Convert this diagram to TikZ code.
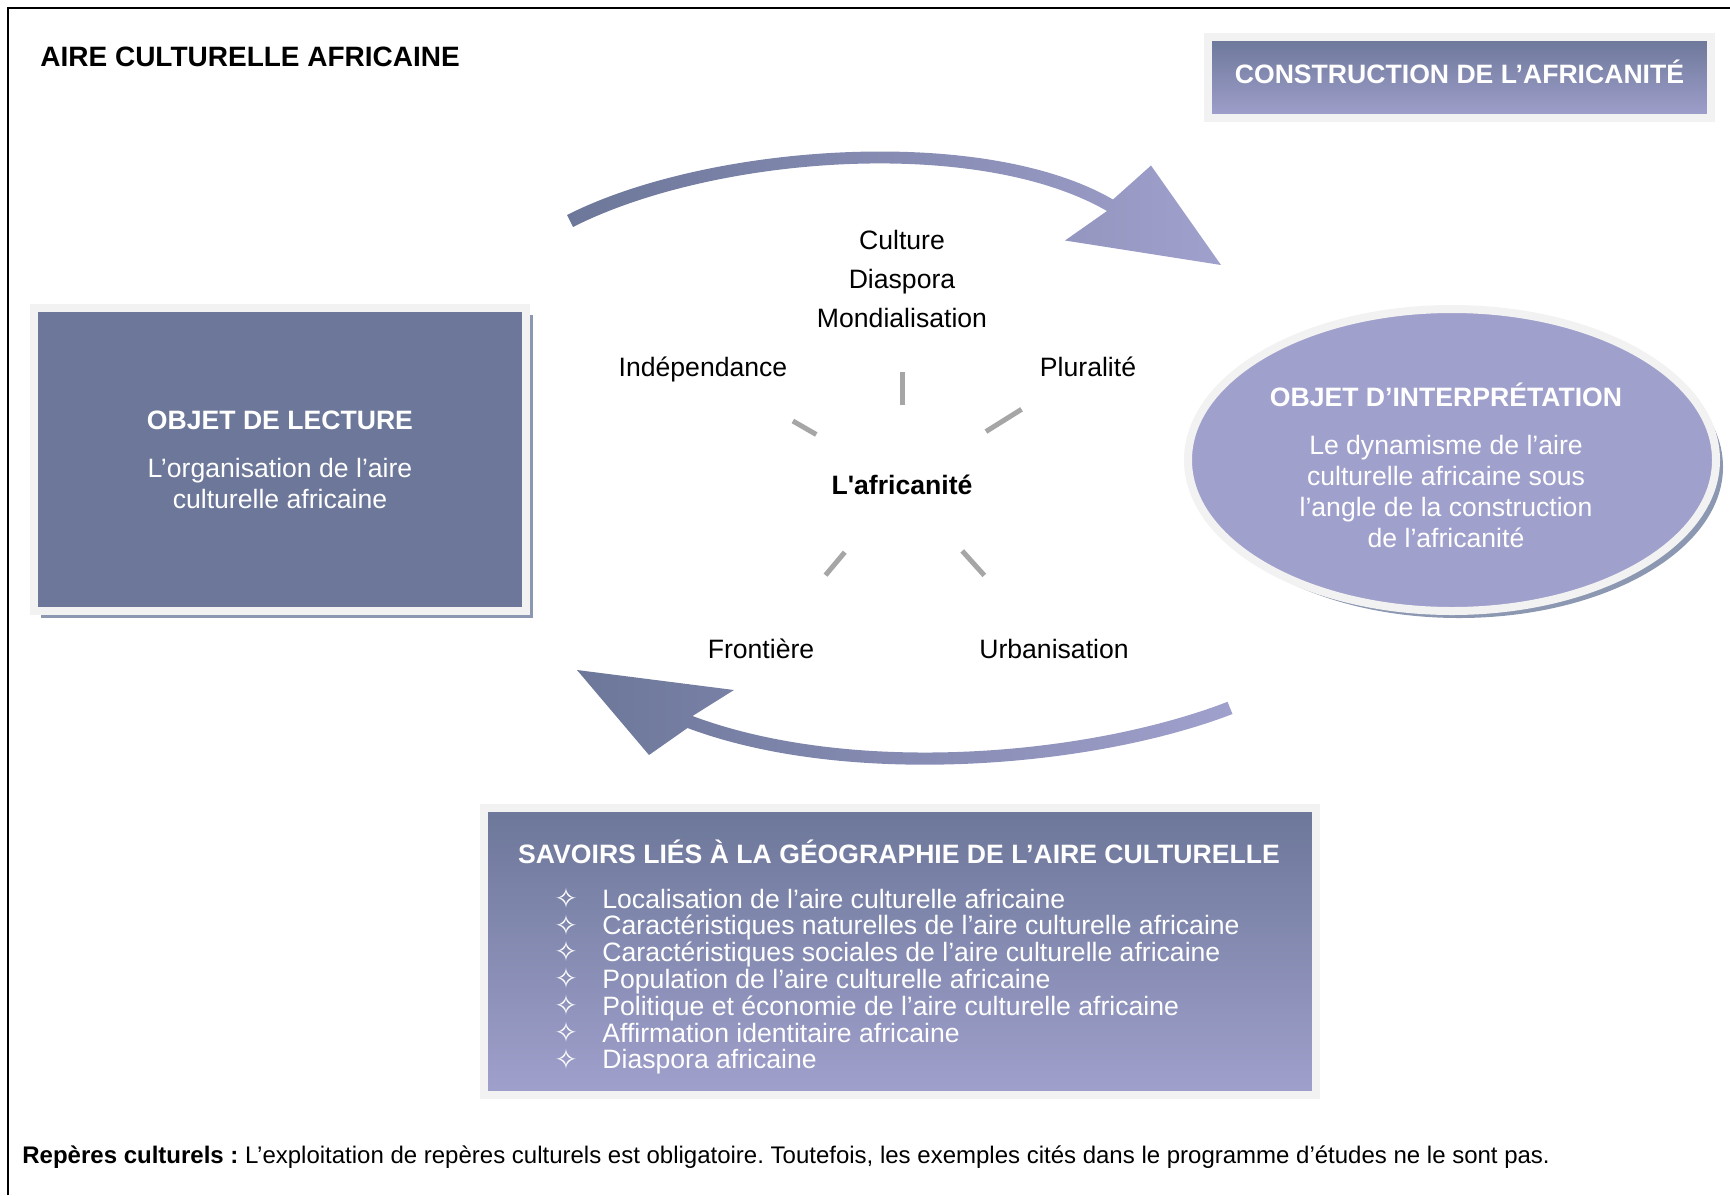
\documentclass[tikz,border=0pt]{standalone}
\usepackage{fontspec}
\setmainfont{Liberation Sans}
\newfontfamily\symfont{DejaVu Sans}
\usetikzlibrary{positioning, calc, shapes.geometric, shadows}
\definecolor{slate}{RGB}{108,119,153}
\definecolor{lavender}{RGB}{160,160,204}
\definecolor{rim}{RGB}{242,242,242}
\definecolor{shadowblue}{RGB}{140,152,178}
\definecolor{raygrey}{RGB}{166,166,166}
\newcommand\mainsize{\fontsize{13.3pt}{15.5pt}\selectfont}
\frenchspacing

\begin{document}
\begin{tikzpicture}[x=0.5pt, y=-0.5pt, node distance=19.5pt, on grid,
    word/.style={font=\mainsize, text height=11pt, text depth=1pt, inner sep=0pt},
    panel/.style={draw=rim, line width=4pt, inner sep=0pt, text=white, align=center, font=\mainsize},
    shadowed/.style={drop shadow={shadow xshift=3.5pt, shadow yshift=-3.5pt, fill=shadowblue, opacity=1}},
    ray/.style={raygrey, line width=2.5pt},
    swoosh/.style={left color=slate, right color=lavender}]
   \useasboundingbox (0,0) rectangle (1730,1195);
   \draw[line width=1pt] (7.7,1195) |- (1730,7.7);

   \node[word, font=\fontsize{14pt}{16pt}\selectfont\bfseries, anchor=west] (title) at (40,56) {AIRE CULTURELLE AFRICAINE};
   \node[panel, top color=slate, bottom color=lavender, minimum width=251.5pt, minimum height=40.5pt,
         text height=9pt, text depth=3pt, font=\mainsize\bfseries] (construct) at (1459.5,77.5) {CONSTRUCTION DE L'AFRICANITÉ};

   % the three panels
   \node[panel, fill=slate, shadowed, minimum width=246.25pt, minimum height=151.5pt] (lecture) at (280,459.5)
      {\textbf{OBJET DE LECTURE}\\[8.5pt] L'organisation de l'aire\\ culturelle africaine};
   \node[panel, ellipse, fill=lavender, shadowed, minimum width=264pt, minimum height=151pt] (interp) at (1452,460) {};
   \node[text=white, align=center, font=\mainsize, inner sep=0pt] (interptxt) at (1446,465)
      {\textbf{OBJET D'INTERPRÉTATION}\\[8.5pt] Le dynamisme de l'aire\\ culturelle africaine sous\\ l'angle de la construction\\ de l'africanité};
   \node[panel, top color=slate, bottom color=lavender, minimum width=416pt, minimum height=143.5pt] (savoirs) at (900,951.5) {};
   \node[word, text=white, font=\mainsize\bfseries] (savtitle) at (899,853) {SAVOIRS LIÉS À LA GÉOGRAPHIE DE L'AIRE CULTURELLE};
   \foreach \entry [count=\n from 0] in {Localisation de l'aire culturelle africaine,
       Caractéristiques naturelles de l'aire culturelle africaine,
       Caractéristiques sociales de l'aire culturelle africaine,
       Population de l'aire culturelle africaine,
       Politique et économie de l'aire culturelle africaine,
       Affirmation identitaire africaine, Diaspora africaine} {
     \node[text=white, inner sep=0pt, font=\fontsize{14pt}{14pt}\symfont] (star\n) at (566,{898+26.8*\n}) {✧};
     \node[word, text=white, anchor=west] (entry\n) at (602,{898+26.8*\n}) {\entry};
   }

   % centre words
   \node[word, font=\mainsize\bfseries] (afr) at (902,484) {L\textquotesingle africanité};
   \node[word] (culture) at (902,239) {Culture};
   \node[word, below=of culture] (diaspora) {Diaspora};
   \node[word, below=of diaspora] (mondial) {Mondialisation};
   \node[word] (indep) at (703,366) {Indépendance};
   \node[word] (plural) at (1088,366) {Pluralité};
   \node[word] (frontiere) at (761,648) {Frontière};
   \node[word] (urbain) at (1054,648) {Urbanisation};
   \foreach \a/\r/\R in {270/79/112, 210/99/126, 328/99/141, 130/89/119, 48/90/123}
     \draw[ray] ($(afr)+(\a:\r)$) -- ($(afr)+(\a:\R)$);

   % curved arrows
   \shade[swoosh] (567,215) .. controls (707,144) and (983,124) .. (1113,199.5)
      -- (1151,165.5) -- (1221,265) -- (1065,240.5) -- (1107,211)
      .. controls (977,136) and (713,156) .. (573,227) -- cycle;
   \shade[swoosh] (1227.5,701.8) .. controls (1087.5,755.8) and (852.5,775.8) .. (692.5,716)
      -- (734,690) -- (577,670) -- (649,755) -- (687.5,728)
      .. controls (847.5,788) and (1092.5,768) .. (1232.5,714) -- cycle;

   \node[word, font=\fontsize{12pt}{14pt}\selectfont, anchor=west] (reperes) at (22,1153)
      {\textbf{Repères culturels :} L'exploitation de repères culturels est obligatoire. Toutefois, les exemples cités dans le programme d'études ne le sont pas.};
\end{tikzpicture}
\end{document}
